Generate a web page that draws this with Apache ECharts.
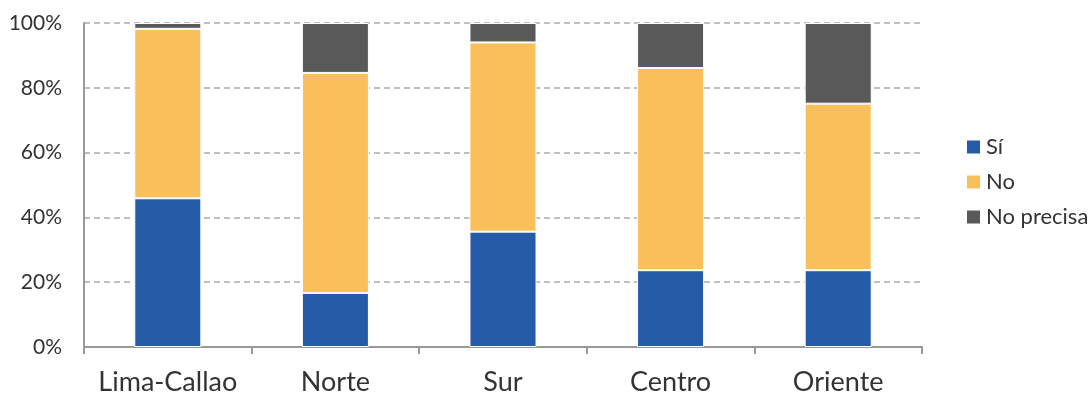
<!DOCTYPE html>
<html>
<head>
<meta charset="utf-8">
<script src="https://cdn.jsdelivr.net/npm/echarts@6/dist/echarts.min.js"></script>
<style>
html,body{margin:0;padding:0;background:#fff;}
#chart{width:1089px;height:394px;}
</style>
</head>
<body>
<div id="chart"></div>
<script>
var regiones = ['Lima-Callao', 'Norte', 'Sur', 'Centro', 'Oriente'];
var si = [45.9, 16.7, 35.6, 23.7, 23.7];
var no = [52.3, 67.9, 58.4, 62.4, 51.4];
var noPrecisa = [1.8, 15.4, 6.0, 13.9, 24.9];
var yTicks = [0, 20, 40, 60, 80, 100];

var dom = document.getElementById('chart');
var myChart = echarts.init(dom);
var fuente = 'Lato, "Noto Sans", sans-serif';

function serie(nombre, datos, color) {
    return {
        name: nombre,
        type: 'bar',
        stack: 'total',
        barWidth: '40%',
        data: datos,
        itemStyle: {
            color: color,
            borderColor: '#ffffff',
            borderWidth: 1
        }
    };
}

var option = {
    animation: false,
    textStyle: { fontFamily: fuente },
    grid: { left: 84, right: 167, top: 23, bottom: 47, outerBoundsMode: 'none' },
    legend: {
        orient: 'vertical',
        left: 960,
        top: 131,
        itemWidth: 15,
        itemHeight: 15,
        itemGap: 13,
        icon: 'rect',
        textStyle: { fontSize: 22, color: '#333', fontFamily: fuente },
        data: ['Sí', 'No', 'No precisa']
    },
    xAxis: {
        type: 'category',
        data: regiones,
        axisLine: { lineStyle: { color: '#999', width: 2 } },
        axisTick: { show: true, interval: 0, length: 7, lineStyle: { color: '#999', width: 2 } },
        axisLabel: { interval: 0, hideOverlap: false, fontSize: 27, color: '#333', margin: 22, fontFamily: fuente }
    },
    yAxis: {
        type: 'value',
        min: yTicks[0],
        max: yTicks[yTicks.length - 1],
        interval: 20,
        axisLine: { show: true, lineStyle: { color: '#999', width: 2 } },
        axisTick: { show: false },
        axisLabel: { fontSize: 21, color: '#333', margin: 22, formatter: '{value}%', fontFamily: fuente },
        splitLine: { lineStyle: { color: '#aaa', type: [6, 4], width: 1.5 } }
    },
    series: [
        serie('Sí', si, '#255BA7'),
        serie('No', no, '#F9BF5B'),
        serie('No precisa', noPrecisa, '#595959')
    ]
};
myChart.setOption(option);
</script>
</body>
</html>
